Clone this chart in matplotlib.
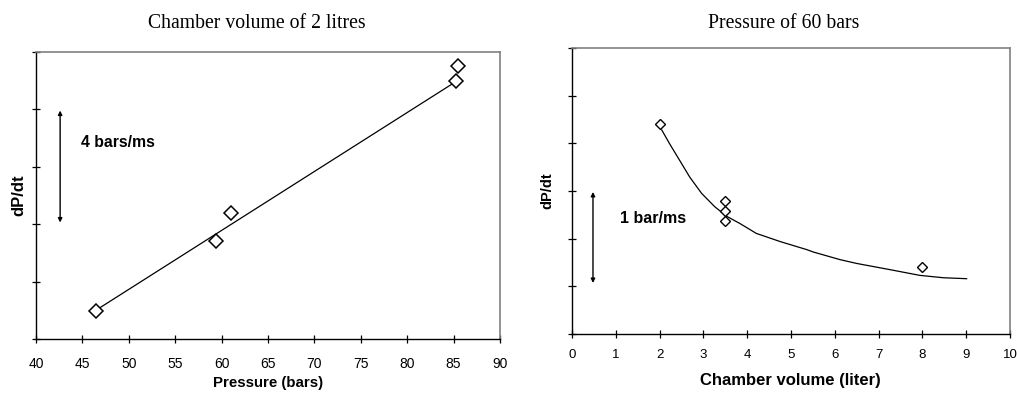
import matplotlib

matplotlib.use("Agg")
import matplotlib.pyplot as plt

# Left panel: chamber volume of 2 litres
pressure = [46.45, 59.4, 61.0, 85.25, 85.5]
dpdt_p = [0.49, 1.70, 2.19, 4.49, 4.76]
fit_p_x = [46.45, 85.5]
fit_p_y = [0.50, 4.51]

# Right panel: pressure of 60 bars
volume = [2.0, 3.5, 3.5, 3.5, 8.0]
dpdt_v = [4.40, 2.79, 2.59, 2.38, 1.40]
fit_v_x = [2.05, 2.23, 2.46, 2.69, 2.96, 3.26, 3.53, 3.83, 4.21, 4.75,
           5.36, 5.51, 6.12, 6.50, 7.26, 7.94, 8.48, 9.01]
fit_v_y = [4.28, 3.99, 3.64, 3.29, 2.95, 2.67, 2.47, 2.32, 2.11, 1.94,
           1.77, 1.72, 1.56, 1.48, 1.35, 1.23, 1.18, 1.16]

SANS = "Liberation Sans"
SERIF = "Liberation Serif"

fig = plt.figure(figsize=(10.17, 3.94), dpi=100)
ax1 = fig.add_axes([0.0354, 0.1396, 0.4562, 0.7284])
ax2 = fig.add_axes([0.5624, 0.1523, 0.4307, 0.7259])


def style(ax, size, pad):
    for s in ("top", "right"):
        ax.spines[s].set_color("#808080")
        ax.spines[s].set_linewidth(1.2)
    for s in ("left", "bottom"):
        ax.spines[s].set_color("black")
        ax.spines[s].set_linewidth(1.0)
    ax.tick_params(direction="inout", length=6, width=0.9, labelsize=size, pad=pad)
    ax.set_yticklabels([])
    for lab in ax.get_xticklabels():
        lab.set_family(SANS)


# left
ax1.plot(fit_p_x, fit_p_y, color="black", lw=0.9)
ax1.plot(pressure, dpdt_p, "D", ms=7.5, mfc="white", mec="black", mew=1.1)
ax1.set_xlim(40, 90)
ax1.set_ylim(0, 5)
ax1.set_xticks(range(40, 91, 5))
ax1.set_yticks(range(0, 6))
style(ax1, 10, 10)
ax1.annotate("", xy=(42.6, 2.03), xytext=(42.6, 3.98),
             arrowprops=dict(arrowstyle="<|-|>", color="black", lw=1.0,
                             mutation_scale=6, shrinkA=0, shrinkB=0))
ax1.text(44.85, 3.42, "4 bars/ms", family=SANS, weight="bold", fontsize=11.3,
         va="center", ha="left")
ax1.text(0.5, -0.153, "Pressure (bars)", transform=ax1.transAxes, family=SANS,
         weight="bold", fontsize=10.8, ha="center", va="center")
ax1.text(-0.036, 0.5, "dP/dt", transform=ax1.transAxes, family=SANS,
         weight="bold", fontsize=12, rotation=90, ha="center", va="center")
fig.text(257 / 1017, 1 - 24 / 394, "Chamber volume of 2 litres", family=SERIF,
         fontsize=14.2, ha="center", va="center")

# right
ax2.plot(fit_v_x, fit_v_y, color="black", lw=0.9)
ax2.plot(volume, dpdt_v, "D", ms=5.2, mfc="white", mec="black", mew=1.0)
ax2.set_xlim(0, 10)
ax2.set_ylim(0, 6)
ax2.set_xticks(range(0, 11))
ax2.set_yticks(range(0, 7))
style(ax2, 9.5, 7.5)
ax2.annotate("", xy=(0.48, 1.07), xytext=(0.48, 2.98),
             arrowprops=dict(arrowstyle="<|-|>", color="black", lw=1.0,
                             mutation_scale=6, shrinkA=0, shrinkB=0))
ax2.text(1.1, 2.42, "1 bar/ms", family=SANS, weight="bold", fontsize=11.5,
         va="center", ha="left")
ax2.text(0.498, -0.164, "Chamber volume (liter)", transform=ax2.transAxes,
         family=SANS, weight="bold", fontsize=12, ha="center", va="center")
ax2.text(-0.055, 0.5, "dP/dt", transform=ax2.transAxes, family=SANS,
         weight="bold", fontsize=10.5, rotation=90, ha="center", va="center")
fig.text(784 / 1017, 1 - 24 / 394, "Pressure of 60 bars", family=SERIF,
         fontsize=14.2, ha="center", va="center")

fig.savefig("out.png", dpi=100)
